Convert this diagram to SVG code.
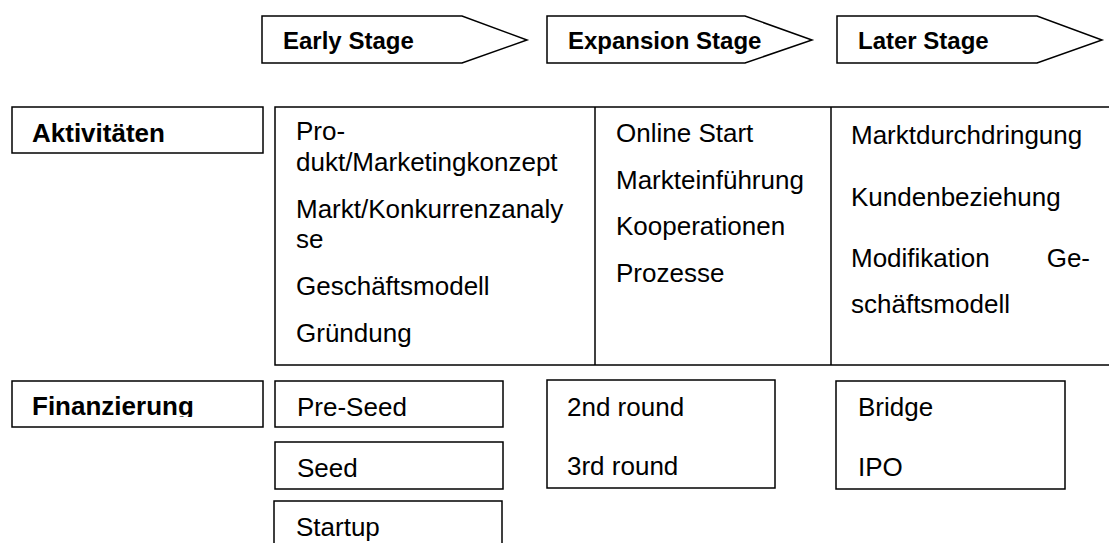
<svg xmlns="http://www.w3.org/2000/svg" width="1109" height="543" viewBox="0 0 1109 543">
<style>
.box{fill:#fff;stroke:#000;stroke-width:1.5}
.line{fill:none;stroke:#000;stroke-width:1.5}
.h{font-family:"Liberation Sans",Arial,sans-serif;font-weight:bold;font-size:24px;fill:#000}
.lbl{font-family:"Liberation Sans",Arial,sans-serif;font-weight:bold;font-size:26px;fill:#000}
.t{font-family:"Liberation Sans",Arial,sans-serif;font-size:26px;fill:#000}
</style>
<defs>
<clipPath id="finClip"><rect x="12" y="381" width="251" height="36"/></clipPath>
</defs>
<rect width="1109" height="543" fill="#fff"/>
<g id="connectors"/>
<g id="stage-early">
<polygon class="box" points="262,16 462,16 527,40 462,63 262,63"/>
<text class="h" x="283" y="49">Early Stage</text>
</g>
<g id="stage-expansion">
<polygon class="box" points="547,16 745,16 812,40 745,63 547,63"/>
<text class="h" x="568" y="49">Expansion Stage</text>
</g>
<g id="stage-later">
<polygon class="box" points="837,16 1037,16 1102,40 1037,63 837,63"/>
<text class="h" x="858" y="49">Later Stage</text>
</g>
<g id="label-aktivitaeten">
<rect class="box" x="12" y="107" width="251" height="46"/>
<text class="lbl" x="32" y="142">Aktivitäten</text>
</g>
<g id="activities-table">
<rect class="box" x="275" y="107" width="845" height="258"/>
<line class="line" x1="595" y1="107" x2="595" y2="365"/>
<line class="line" x1="831" y1="107" x2="831" y2="365"/>
</g>
<g id="activities-early">
<text class="t" x="296" y="140">Pro-</text>
<text class="t" x="296" y="171">dukt/Marketingkonzept</text>
<text class="t" x="296" y="218">Markt/Konkurrenzanaly</text>
<text class="t" x="296" y="248">se</text>
<text class="t" x="296" y="295">Geschäftsmodell</text>
<text class="t" x="296" y="342">Gründung</text>
</g>
<g id="activities-expansion">
<text class="t" x="616" y="142">Online Start</text>
<text class="t" x="616" y="189">Markteinführung</text>
<text class="t" x="616" y="235">Kooperationen</text>
<text class="t" x="616" y="282">Prozesse</text>
</g>
<g id="activities-later">
<text class="t" x="851" y="144">Marktdurchdringung</text>
<text class="t" x="851" y="206">Kundenbeziehung</text>
<text class="t" x="851" y="267">Modifikation</text>
<text class="t" x="1090" y="267" text-anchor="end">Ge-</text>
<text class="t" x="851" y="313">schäftsmodell</text>
</g>
<g id="label-finanzierung">
<rect class="box" x="12" y="381" width="251" height="46"/>
<text class="lbl" x="32" y="415" clip-path="url(#finClip)">Finanzierung</text>
</g>
<g id="fin-preseed">
<rect class="box" x="275" y="381" width="228" height="46"/>
<text class="t" x="297" y="416">Pre-Seed</text>
</g>
<g id="fin-seed">
<rect class="box" x="275" y="442" width="228" height="47"/>
<text class="t" x="297" y="477">Seed</text>
</g>
<g id="fin-startup">
<rect class="box" x="274" y="501" width="228" height="60"/>
<text class="t" x="296" y="536">Startup</text>
</g>
<g id="fin-rounds">
<rect class="box" x="547" y="380" width="228" height="108"/>
<text class="t" x="567" y="416">2nd round</text>
<text class="t" x="567" y="475">3rd round</text>
</g>
<g id="fin-later">
<rect class="box" x="836" y="381" width="229" height="108"/>
<text class="t" x="858" y="416">Bridge</text>
<text class="t" x="858" y="476">IPO</text>
</g>
</svg>
